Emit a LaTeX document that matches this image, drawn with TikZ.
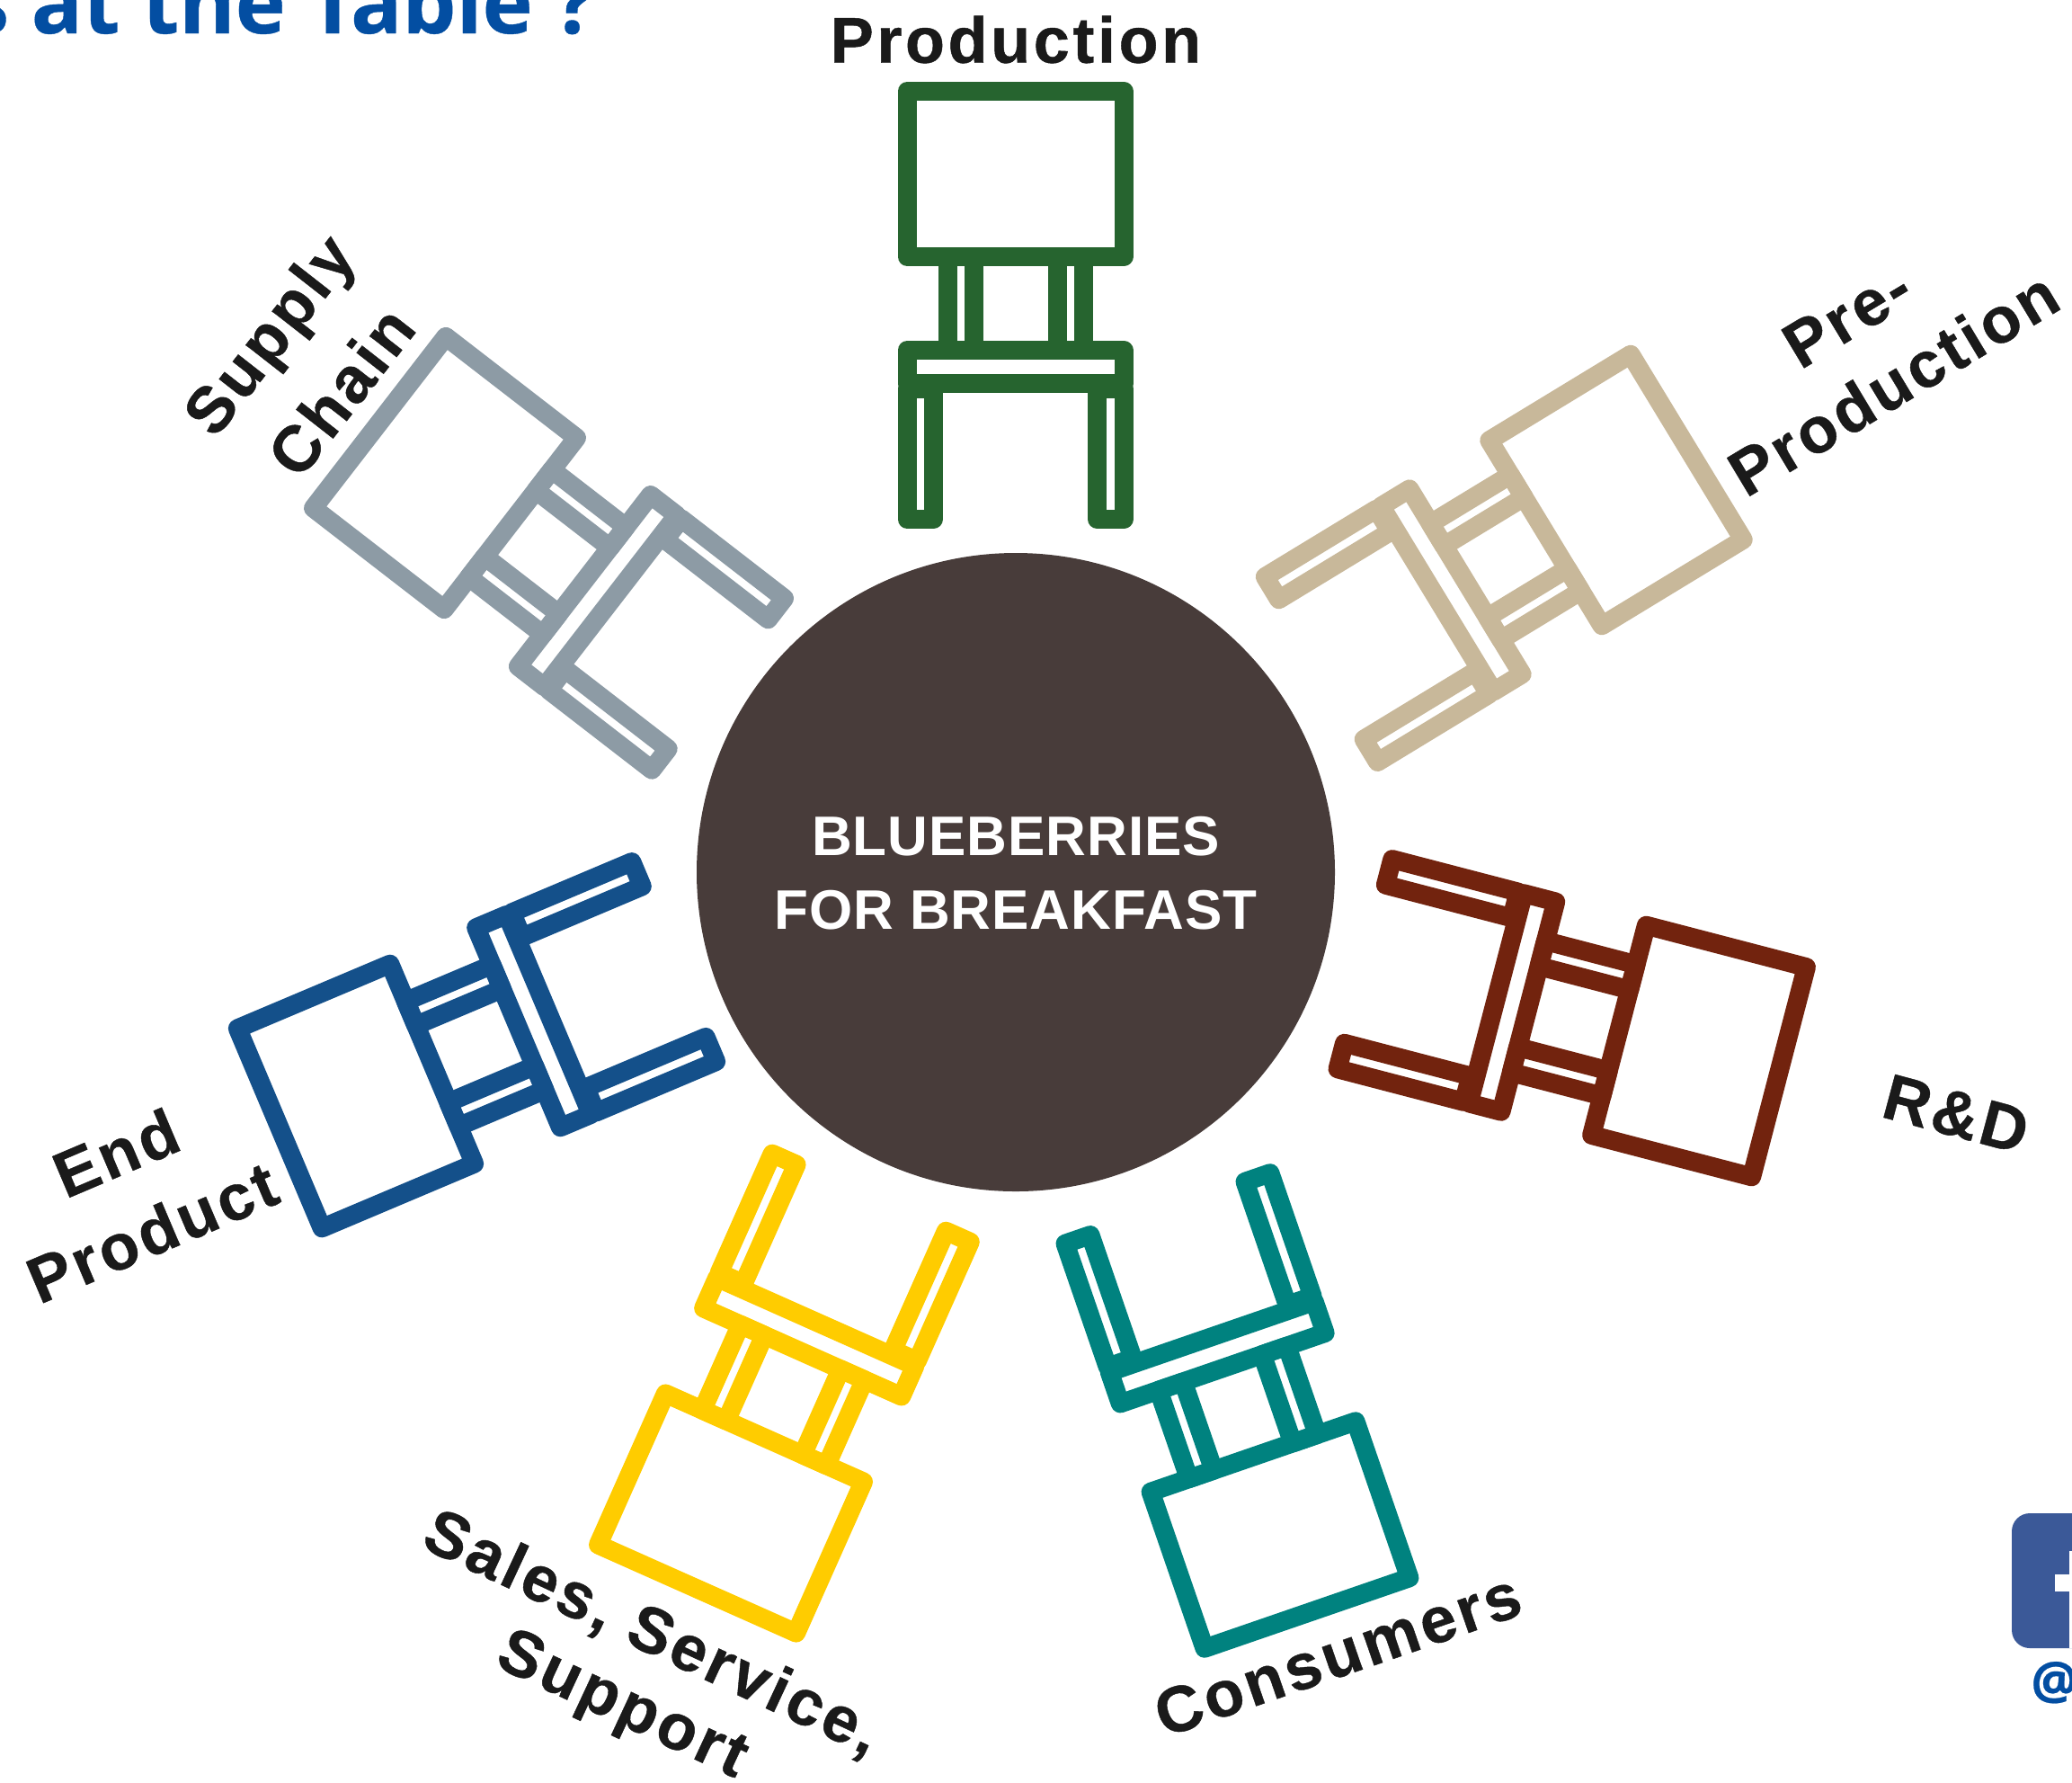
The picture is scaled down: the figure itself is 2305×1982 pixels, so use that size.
\documentclass[tikz,border=0pt]{standalone}
\usepackage{fontspec}
\setmainfont{Liberation Sans}
\newfontfamily\labelfont{Liberation Sans}[LetterSpace=5,BoldFeatures={FakeBold=0.6}]
\newfontfamily\titlefont{Open Sans}[BoldFont={* Bold},BoldFeatures={FakeBold=0.4}]
\newfontfamily\hubfont{Liberation Sans}[LetterSpace=1.5]
\definecolor{cgreen}{HTML}{26642F}
\definecolor{ctan}{HTML}{C8B89A}
\definecolor{cbrown}{HTML}{72230E}
\definecolor{cteal}{HTML}{00827F}
\definecolor{cyellow}{HTML}{FFCC00}
\definecolor{cblue}{HTML}{14508A}
\definecolor{cgray}{HTML}{8D9BA5}
\definecolor{chub}{HTML}{483C3A}
\definecolor{ctext}{HTML}{1A1A1A}
\definecolor{ctitle}{HTML}{034EA2}
\definecolor{cfb}{HTML}{3B5998}
\tikzset{
  chairline/.style={line width=10.5pt,line join=round},
  seatlabel/.style={font=\labelfont\bfseries\fontsize{36}{36}\selectfont,text=ctext,inner sep=0pt},
  hubnode/.style={circle,fill=chub,minimum size=355pt,inner sep=0pt},
  hubtext/.style={anchor=base,inner sep=0pt,text=white,font=\hubfont\bfseries\fontsize{31}{31}\selectfont},
}
\newcommand{\chairat}[4]{%
  \begin{scope}[shift={(#1,#2)},rotate=-#3,chairline,draw=#4]
    \draw (-120.5,-92) rectangle (120.5,92);
    \draw (-75.5,92) rectangle (-46.5,196);
    \draw (46.5,92) rectangle (75.5,196);
    \draw (-120.5,239) rectangle (-91,384);
    \draw (91,239) rectangle (120.5,384);
    \draw (-120.5,196) rectangle (120.5,233);
  \end{scope}}
\begin{document}
\begin{tikzpicture}[x=0.5pt,y=-0.5pt]
\useasboundingbox (0,0) rectangle (2305,1982);
\clip (0,0) rectangle (2305,1982);
\fill[white] (0,0) rectangle (2305,1982);
\node[anchor=base east,inner sep=0pt,text=ctitle,font=\titlefont\bfseries\fontsize{47.5}{47.5}\selectfont] (title) at (663,37) {s at the Table ?};
\node[hubnode] (hub) at (1130,970) {};
\node[hubtext] (hubone) at (1130,951) {BLUEBERRIES};
\node[hubtext] (hubtwo) at (1130,1033) {FOR BREAKFAST};
\chairat{1129.5}{193.5}{0}{cgreen}
\chairat{1798}{545}{58.7}{ctan}
\chairat{1890}{1169}{104.6}{cbrown}
\chairat{1424}{1707}{161}{cteal}
\chairat{813}{1683}{204}{cyellow}
\chairat{396}{1219}{247.1}{cblue}
\chairat{495}{526}{-52.3}{cgray}
\node[seatlabel] (l1) at (1130,44) {Production};
\node[seatlabel,rotate=31] (l2a) at (2055,352) {Pre-};
\node[seatlabel,rotate=31] (l2b) at (2106,426) {Production};
\node[seatlabel,rotate=-15] (l3) at (2176,1239) {R\&D};
\node[seatlabel,rotate=19] (l4) at (1488,1840) {Consumers};
\node[seatlabel,rotate=-25] (l5a) at (725,1818) {Sales, Service,};
\node[seatlabel,rotate=-25] (l5b) at (691,1899) {Support};
\node[seatlabel,rotate=23] (l6a) at (129,1282) {End};
\node[seatlabel,rotate=23] (l6b) at (169,1370) {Product};
\node[seatlabel,rotate=52] (l7a) at (304,376) {Supply};
\node[seatlabel,rotate=52] (l7b) at (379,435) {Chain};
\fill[cfb,rounded corners=10pt] (2238,1683) rectangle (2345,1833);
\fill[white] (2286,1751) rectangle (2310,1770);
\fill[white] (2302,1725) rectangle (2310,1833);
\node[anchor=base west,inner sep=0pt,text=ctitle,font=\titlefont\bfseries\fontsize{29}{29}\selectfont] (fbat) at (2259,1890) {@};
\end{tikzpicture}
\end{document}
